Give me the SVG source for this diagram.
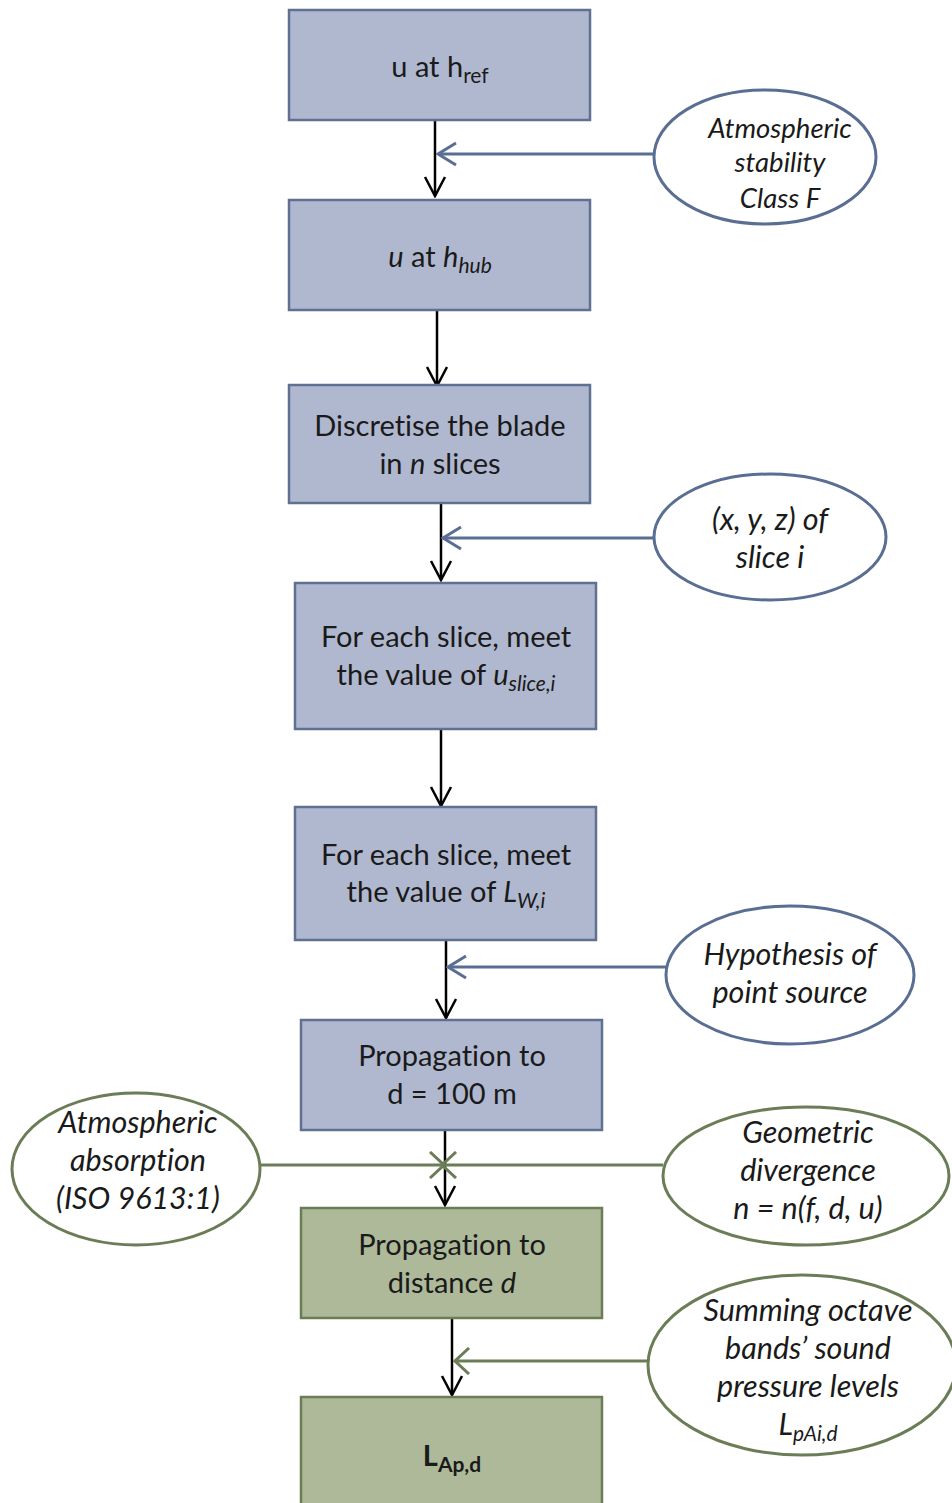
<svg xmlns="http://www.w3.org/2000/svg" width="952" height="1503" viewBox="0 0 952 1503">
<style>
  .bbox { fill: #b0b8cf; stroke: #5f7092; stroke-width: 2.5; }
  .gbox { fill: #adb999; stroke: #6b7d57; stroke-width: 2.5; }
  .bell { fill: #ffffff; stroke: #5a6e93; stroke-width: 3; }
  .gell { fill: #ffffff; stroke: #6b7d57; stroke-width: 3; }
  .t { font-family: Lato, "Open Sans", sans-serif; font-size: 29px; fill: #1a1a1a; text-anchor: middle; font-variant-ligatures: none; }
  .e { font-size: 30.5px; }
  .e1 { font-size: 27.5px; }
  .i { font-style: italic; }
  .flow { stroke: #000; stroke-width: 2.5; fill: none; marker-end: url(#ah); }
  .bin { stroke: #5a6e93; stroke-width: 3; fill: none; marker-end: url(#bh); }
  .gin { stroke: #6b7d57; stroke-width: 3; fill: none; marker-end: url(#gh); }
</style>
<defs>
  <marker id="ah" markerUnits="userSpaceOnUse" viewBox="-22 -12 24 24" markerWidth="24" markerHeight="24" refX="0" refY="0" orient="auto">
    <path d="M-19,-10 L0,0 L-19,10" fill="none" stroke="#000" stroke-width="2.5"/>
  </marker>
  <marker id="bh" markerUnits="userSpaceOnUse" viewBox="-22 -14 24 28" markerWidth="24" markerHeight="28" refX="0" refY="0" orient="auto">
    <path d="M-18,-11 L0,0 L-18,11" fill="none" stroke="#5a6e93" stroke-width="3"/>
  </marker>
  <marker id="gh" markerUnits="userSpaceOnUse" viewBox="-22 -14 24 28" markerWidth="24" markerHeight="28" refX="0" refY="0" orient="auto">
    <path d="M-14,-13 L0,0 L-14,13" fill="none" stroke="#6b7d57" stroke-width="3"/>
  </marker>
</defs>

<g id="connectors">
  <line class="flow" x1="435" y1="121" x2="435" y2="196"/>
  <line class="flow" x1="437" y1="311" x2="437" y2="386"/>
  <line class="flow" x1="441" y1="504" x2="441" y2="580"/>
  <line class="flow" x1="441" y1="730" x2="441" y2="806"/>
  <line class="flow" x1="446" y1="941" x2="446" y2="1018"/>
  <line class="flow" x1="445" y1="1131" x2="445" y2="1205"/>
  <line class="flow" x1="452" y1="1319" x2="452" y2="1395"/>
  <line class="bin" x1="654" y1="154" x2="438" y2="154"/>
  <line class="bin" x1="654" y1="538" x2="443" y2="538"/>
  <line class="bin" x1="666" y1="967" x2="448" y2="967"/>
  <line class="gin" x1="261" y1="1165" x2="444" y2="1165"/>
  <line class="gin" x1="663" y1="1165" x2="442" y2="1165"/>
  <line class="gin" x1="648" y1="1361" x2="455" y2="1361"/>
</g>

<g id="n1">
  <rect class="bbox" x="289" y="10" width="301" height="110"/>
  <text class="t" x="440" y="77">u at h<tspan font-size="21" dy="6">ref</tspan></text>
</g>
<g id="n2">
  <rect class="bbox" x="289" y="200" width="301" height="110"/>
  <text class="t" x="440" y="267"><tspan class="i">u</tspan> at <tspan class="i">h</tspan><tspan class="i" font-size="21" dy="6">hub</tspan></text>
</g>
<g id="n3">
  <rect class="bbox" x="289" y="385" width="301" height="118"/>
  <text class="t" x="440" y="436">Discretise the blade</text>
  <text class="t" x="440" y="474">in <tspan class="i">n</tspan> slices</text>
</g>
<g id="n4">
  <rect class="bbox" x="295" y="583" width="301" height="146"/>
  <text class="t" x="446" y="647">For each slice, meet</text>
  <text class="t" x="446" y="685">the value of <tspan class="i">u</tspan><tspan class="i" font-size="21" dy="6">slice,i</tspan></text>
</g>
<g id="n5">
  <rect class="bbox" x="295" y="807" width="301" height="133"/>
  <text class="t" x="446" y="865">For each slice, meet</text>
  <text class="t" x="446" y="902">the value of <tspan class="i">L</tspan><tspan class="i" font-size="21" dy="6">W,i</tspan></text>
</g>
<g id="n6">
  <rect class="bbox" x="301" y="1020" width="301" height="110"/>
  <text class="t" x="452" y="1066">Propagation to</text>
  <text class="t" x="452" y="1104">d = 100 m</text>
</g>
<g id="n7">
  <rect class="gbox" x="301" y="1208" width="301" height="110"/>
  <text class="t" x="452" y="1255">Propagation to</text>
  <text class="t" x="452" y="1293">distance <tspan class="i">d</tspan></text>
</g>
<g id="n8">
  <rect class="gbox" x="301" y="1397" width="301" height="110"/>
  <text class="t" x="452" y="1466" font-weight="bold">L<tspan font-size="21" dy="6">Ap,d</tspan></text>
</g>

<g id="e1">
  <ellipse class="bell" cx="765" cy="157" rx="111" ry="67"/>
  <text class="t e1 i" x="780" y="138">Atmospheric</text>
  <text class="t e1 i" x="780" y="172">stability</text>
  <text class="t e1 i" x="780" y="208">Class F</text>
</g>
<g id="e2">
  <ellipse class="bell" cx="770" cy="537" rx="116" ry="63"/>
  <text class="t e i" x="770" y="530">(x, y, z) of</text>
  <text class="t e i" x="770" y="568">slice i</text>
</g>
<g id="e3">
  <ellipse class="bell" cx="790" cy="975" rx="124" ry="69"/>
  <text class="t e i" x="790" y="965">Hypothesis of</text>
  <text class="t e i" x="790" y="1003">point source</text>
</g>
<g id="e4">
  <ellipse class="gell" cx="136" cy="1169" rx="124" ry="76"/>
  <text class="t e i" x="138" y="1133">Atmospheric</text>
  <text class="t e i" x="138" y="1171">absorption</text>
  <text class="t e i" x="138" y="1209">(ISO 9613:1)</text>
</g>
<g id="e5">
  <ellipse class="gell" cx="806" cy="1176" rx="143" ry="69"/>
  <text class="t e i" x="808" y="1143">Geometric</text>
  <text class="t e i" x="808" y="1181">divergence</text>
  <text class="t e i" x="808" y="1219">n = n(f, d, u)</text>
</g>
<g id="e6">
  <ellipse class="gell" cx="802" cy="1365" rx="154" ry="90"/>
  <text class="t e i" x="808" y="1321">Summing octave</text>
  <text class="t e i" x="808" y="1359">bands’ sound</text>
  <text class="t e i" x="808" y="1397">pressure levels</text>
  <text class="t e i" x="808" y="1435">L<tspan font-size="21" dy="6">pAi,d</tspan></text>
</g>
</svg>
